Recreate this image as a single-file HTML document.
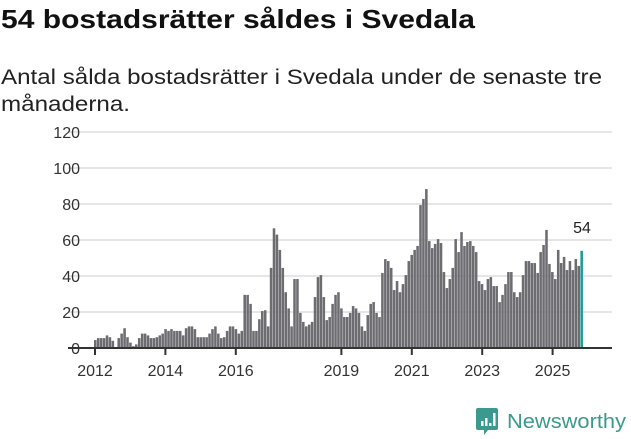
<!DOCTYPE html>
<html><head><meta charset="utf-8"><style>
html,body{margin:0;padding:0;background:#fff;width:631px;height:439px;overflow:hidden}
svg{display:block;font-family:"Liberation Sans",sans-serif}
</style></head><body>
<svg id="s" width="631" height="439" viewBox="0 0 631 439" xmlns="http://www.w3.org/2000/svg">
<text x="1" y="28" font-size="26" font-weight="bold" fill="#111" textLength="474" lengthAdjust="spacingAndGlyphs">54 bostadsrätter såldes i Svedala</text>
<text x="1" y="84" font-size="21" fill="#222" textLength="601" lengthAdjust="spacingAndGlyphs">Antal sålda bostadsrätter i Svedala under de senaste tre</text>
<text x="1" y="111" font-size="21" fill="#222" textLength="129" lengthAdjust="spacingAndGlyphs">månaderna.</text>
<g id="grid"></g>
<g id="bars"></g>
<line x1="68" y1="348" x2="612" y2="348" stroke="#333" stroke-width="2"/>
<g id="ticks"></g>
<text x="582" y="233" font-size="16" fill="#222" text-anchor="middle">54</text>
<g transform="translate(476,408)">
<path d="M2 0h18a2 2 0 0 1 2 2v18a2 2 0 0 1-2 2h-8l-4 5v-5h-6a2 2 0 0 1-2-2v-18a2 2 0 0 1 2-2z" fill="#3a9a8e"/>
<rect x="5" y="13" width="2.5" height="5" fill="#fff"/><rect x="9" y="10" width="2.5" height="8" fill="#fff"/><rect x="13" y="15" width="2.5" height="3" fill="#fff"/><rect x="17" y="5" width="2.5" height="13" fill="#fff"/>
</g>
<text x="507" y="428" font-size="20" fill="#3a9a8e" textLength="119" lengthAdjust="spacingAndGlyphs">Newsworthy</text>
</svg>
<script>
var v=[4.4,5.5,5.5,5.5,7,6,4,0,5.5,8,11,6,3,1,2,5.5,8,8,7,5.5,5.5,6,7,8,10.5,9.5,10.5,9.5,9.5,9.5,7,11,12,12,10.5,6,6,6,6,8,10.5,12,8,5.5,6,9.5,12,12,10.5,8,9.5,29.5,29.5,24.5,9.5,9.5,16,20.5,21,12,44.5,66.5,63,54.5,44.5,31,22,12,38.3,38.3,19.5,14.5,12,13,14.5,28.3,39.4,40.5,28.3,15.5,17.2,24.5,29.5,31,
22,17.2,17.2,19.5,23.3,22,19.5,12,9.5,18.3,24.5,25.5,19.5,17.2,41.7,49.4,48.3,44.5,32.2,37.2,31,35.5,40.5,48.3,51.7,54.5,56.7,79.4,82.8,88.3,59.4,55.5,57.8,60.5,58.3,42.2,33.3,38.3,44.5,60.5,53.3,64.4,56.7,58.9,59.4,56.7,53.3,37.2,35.5,32.2,38.3,39.4,34.4,34.4,25.5,29.5,35.5,42.2,42.2,31,28.3,31,40.5,48.3,48.3,47.2,47.2,41.7,53.3,57.2,65.6,46.7,42.2,38.3,54.5,47.2,50.6,43.3,48.3,43.3,49.4,45.6,54];
var h="";
for(var g=0;g<=120;g+=20){var y=348-1.8*g;if(g>0)h+='<line x1="68" y1="'+y+'" x2="612" y2="'+y+'" stroke="#ddd" stroke-width="1.5"/>';h+='<text x="80" y="'+(y+6)+'" font-size="16" fill="#333" text-anchor="end">'+g+'</text>';}
document.getElementById("grid").innerHTML=h;h="";
var dx=2.93;
for(var i=0;i<v.length;i++){if(!v[i])continue;var x=94+i*dx,hh=1.8*v[i];h+='<rect x="'+x.toFixed(2)+'" y="'+(348-hh).toFixed(2)+'" width="2.55" height="'+hh.toFixed(2)+'" fill="'+(i==v.length-1?'#1a9c8f':'#6d6c71')+'"/>';}
document.getElementById("bars").innerHTML=h;h="";
[2012,2014,2016,2019,2021,2023,2025].forEach(function(yr){var x=95+(yr-2012)*35.2;h+='<line x1="'+x+'" y1="348" x2="'+x+'" y2="355" stroke="#333" stroke-width="2"/><text x="'+x+'" y="376" font-size="16" fill="#333" text-anchor="middle">'+yr+'</text>';});
document.getElementById("ticks").innerHTML=h;
</script>
</body></html>
